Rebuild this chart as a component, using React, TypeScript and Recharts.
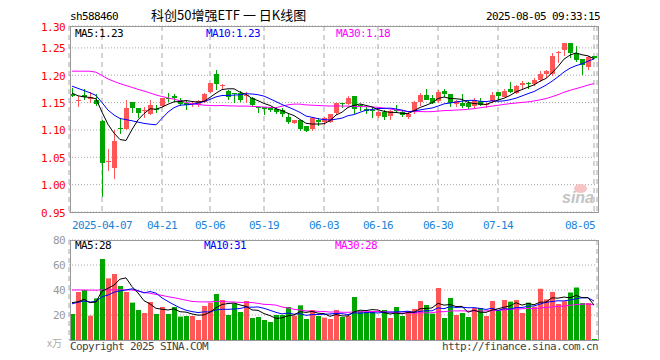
import React from 'react';
import { ComposedChart, Bar, Line, XAxis, YAxis, CartesianGrid, Cell } from 'recharts';

// trading days shown, oldest first
const dayList = [
  '03-28', '03-31',
  '04-01', '04-02', '04-03', '04-07', '04-08', '04-09', '04-10', '04-11', '04-14', '04-15', '04-16', '04-17',
  '04-18', '04-21', '04-22', '04-23', '04-24', '04-25', '04-28', '04-29', '04-30',
  '05-06', '05-07', '05-08', '05-09', '05-12', '05-13', '05-14', '05-15', '05-16', '05-19', '05-20', '05-21',
  '05-22', '05-23', '05-26', '05-27', '05-28', '05-29', '05-30',
  '06-03', '06-04', '06-05', '06-06', '06-09', '06-10', '06-11', '06-12', '06-13', '06-16', '06-17', '06-18',
  '06-19', '06-20', '06-23', '06-24', '06-25', '06-26', '06-27', '06-30',
  '07-01', '07-02', '07-03', '07-04', '07-07', '07-08', '07-09', '07-10', '07-11', '07-14', '07-15', '07-16',
  '07-17', '07-18', '07-21', '07-22', '07-23', '07-24', '07-25', '07-28', '07-29', '07-30', '07-31',
  '08-01', '08-04', '08-05',
];
const dates = dayList.map((d) => '2025-' + d);

const opens = [
  1.166, 1.154, 1.163, 1.157, 1.155, 1.117, 1.041, 1.030, 1.103, 1.101,
  1.151, 1.140, 1.135, 1.130, 1.139, 1.144, 1.159, 1.162, 1.155, 1.150,
  1.148, 1.145, 1.151, 1.170, 1.202, 1.180, 1.171, 1.167, 1.167, 1.162,
  1.159, 1.142, 1.142, 1.140, 1.139, 1.136, 1.124, 1.113, 1.118, 1.107,
  1.101, 1.118, 1.114, 1.114, 1.131, 1.149, 1.148, 1.162, 1.146, 1.138,
  1.137, 1.126, 1.133, 1.126, 1.137, 1.133, 1.124, 1.133, 1.151, 1.163,
  1.159, 1.152, 1.172, 1.165, 1.148, 1.149, 1.150, 1.144, 1.153, 1.148,
  1.152, 1.170, 1.161, 1.174, 1.167, 1.183, 1.186, 1.184, 1.192, 1.203,
  1.203, 1.241, 1.246, 1.259, 1.240, 1.229, 1.215, 1.236,
];
const highs = [
  1.176, 1.162, 1.174, 1.169, 1.165, 1.118, 1.065, 1.099, 1.122, 1.154,
  1.151, 1.141, 1.142, 1.155, 1.145, 1.159, 1.168, 1.166, 1.158, 1.155,
  1.153, 1.155, 1.167, 1.186, 1.210, 1.184, 1.173, 1.168, 1.171, 1.169,
  1.160, 1.142, 1.142, 1.140, 1.142, 1.140, 1.130, 1.119, 1.119, 1.107,
  1.124, 1.121, 1.124, 1.130, 1.149, 1.149, 1.162, 1.162, 1.148, 1.142,
  1.142, 1.134, 1.136, 1.136, 1.145, 1.137, 1.133, 1.153, 1.168, 1.174,
  1.163, 1.173, 1.174, 1.165, 1.155, 1.165, 1.155, 1.158, 1.158, 1.150,
  1.170, 1.170, 1.175, 1.187, 1.183, 1.190, 1.187, 1.195, 1.207, 1.209,
  1.240, 1.244, 1.259, 1.259, 1.254, 1.230, 1.235, 1.236,
];
const lows = [
  1.159, 1.141, 1.154, 1.149, 1.143, 0.977, 1.025, 1.009, 1.092, 1.099,
  1.131, 1.123, 1.121, 1.127, 1.130, 1.142, 1.151, 1.152, 1.143, 1.137,
  1.142, 1.142, 1.149, 1.167, 1.173, 1.173, 1.154, 1.149, 1.151, 1.149,
  1.142, 1.131, 1.128, 1.133, 1.129, 1.124, 1.112, 1.112, 1.098, 1.096,
  1.099, 1.106, 1.110, 1.113, 1.127, 1.140, 1.145, 1.130, 1.136, 1.129,
  1.122, 1.122, 1.118, 1.118, 1.130, 1.124, 1.120, 1.130, 1.145, 1.153,
  1.146, 1.149, 1.160, 1.142, 1.143, 1.140, 1.138, 1.140, 1.144, 1.141,
  1.149, 1.156, 1.160, 1.166, 1.166, 1.175, 1.175, 1.180, 1.186, 1.195,
  1.198, 1.222, 1.236, 1.232, 1.225, 1.201, 1.210, 1.230,
];
const closes = [
  1.162, 1.155, 1.160, 1.160, 1.148, 1.040, 1.043, 1.080, 1.101, 1.140,
  1.140, 1.131, 1.137, 1.145, 1.137, 1.158, 1.158, 1.159, 1.148, 1.146,
  1.149, 1.153, 1.165, 1.185, 1.184, 1.182, 1.160, 1.165, 1.154, 1.164,
  1.145, 1.140, 1.139, 1.136, 1.133, 1.129, 1.115, 1.118, 1.101, 1.098,
  1.122, 1.115, 1.121, 1.129, 1.149, 1.148, 1.159, 1.139, 1.143, 1.135,
  1.135, 1.133, 1.124, 1.134, 1.134, 1.127, 1.130, 1.151, 1.163, 1.154,
  1.150, 1.169, 1.165, 1.149, 1.152, 1.144, 1.142, 1.154, 1.145, 1.148,
  1.164, 1.162, 1.171, 1.170, 1.181, 1.185, 1.184, 1.192, 1.203, 1.207,
  1.235, 1.243, 1.259, 1.240, 1.227, 1.218, 1.233, 1.232,
];
// volume, 万
const volumes = [
  20.8, 38.4, 40, 19.5, 33.3, 64.8, 49.3, 52.8, 43.2, 38.4,
  29.9, 24, 21.6, 30.4, 20.8, 26.4, 20.8, 26.4, 18.7, 19.2,
  19.2, 16, 27.2, 29.9, 36.8, 32, 20, 29.1, 22.4, 31.2,
  17.6, 18.4, 16, 14.4, 20, 20, 26.4, 19.5, 27.7, 16.8,
  24, 19.2, 17.9, 16.8, 24, 18.4, 19.2, 34.4, 23.2, 22.4,
  22.4, 17.6, 24, 17.6, 26.4, 19.2, 23.2, 24.8, 31.2, 28,
  21.1, 41.6, 17.6, 33.6, 20, 21.6, 18.4, 25.6, 25.6, 19.2,
  31.2, 23.2, 32, 30.7, 32, 21.6, 29.9, 26.7, 41, 32.5,
  38.5, 28.8, 31, 38, 42, 29.5, 29.5, 0.8,
];
// sessions before the visible window, needed for the moving averages
const priorCloses = [
  1.155, 1.160, 1.162, 1.200, 1.225, 1.230, 1.215, 1.225, 1.240, 1.245,
  1.238, 1.232, 1.245, 1.250, 1.242, 1.235, 1.228, 1.232, 1.238, 1.225,
  1.195, 1.200, 1.200, 1.198, 1.170, 1.180, 1.170, 1.165, 1.160,
];
const priorVolumes = [
  36, 42, 22, 35, 58, 50, 50, 44, 40, 30,
  52, 55, 50, 48, 50, 52, 50, 48, 50, 48,
  26, 30, 28, 27, 29, 35, 30, 33, 30.7,
];

const axisDates = ['2025-04-07', '2025-04-21', '2025-05-06', '2025-05-19', '2025-06-03', '2025-06-16', '2025-06-30', '2025-07-14', '2025-08-05'];
const priceTicks = [0.95, 1.0, 1.05, 1.1, 1.15, 1.2, 1.25, 1.29];
const priceTickLabels = ['0.95', '1.00', '1.05', '1.10', '1.15', '1.20', '1.25', '1.30'];
const volumeTicks = [20, 40, 60, 80];

const RED = '#ff5757';
const GREEN = '#00a600';
const MONO = '"DejaVu Sans Mono", monospace';
const FRAME_LEFT = 70;
const FRAME_RIGHT = 598;

const movingAverage = (values: number[], prior: number[], n: number) => {
  const all = [...prior, ...values];
  return values.map((_, i) => {
    const end = prior.length + i;
    let sum = 0;
    for (let k = end - n + 1; k <= end; k++) sum += all[k];
    return sum / n;
  });
};

const ma5 = movingAverage(closes, priorCloses, 5);
const ma10 = movingAverage(closes, priorCloses, 10);
const ma30 = movingAverage(closes, priorCloses, 30);
const vma5 = movingAverage(volumes, priorVolumes, 5);
const vma10 = movingAverage(volumes, priorVolumes, 10);
const vma30 = movingAverage(volumes, priorVolumes, 30);

const rows = dates.map((date, i) => ({
  date,
  open: opens[i],
  high: highs[i],
  low: lows[i],
  close: closes[i],
  range: [lows[i], highs[i]],
  up: closes[i] >= opens[i],
  vol: volumes[i],
  ma5: ma5[i],
  ma10: ma10[i],
  ma30: ma30[i],
  vma5: vma5[i],
  vma10: vma10[i],
  vma30: vma30[i],
}));
const last = rows.length - 1;

const Candle = (props: any) => {
  const { x, y, width, height, payload } = props;
  const { open, close, high, low } = payload;
  const color = close >= open ? RED : GREEN;
  const top = Math.min(y, y + height);
  const h = Math.abs(height);
  const toY = (p: number) => top + ((high - p) / (high - low || 1)) * h;
  const left = Math.round(x);
  const w = Math.round(width);
  const mid = left + Math.floor(w / 2);
  const bodyTop = Math.round(toY(Math.max(open, close)));
  const bodyBottom = Math.round(toY(Math.min(open, close)));
  return (
    <g>
      <rect x={mid} y={Math.round(top)} width={1} height={Math.max(1, Math.round(h))} fill={color} />
      <rect x={left} y={bodyTop} width={w} height={Math.max(1, bodyBottom - bodyTop)} fill={color} />
    </g>
  );
};

const DateTick = (props: any) => {
  const { x, y, payload } = props;
  const label = payload.value === axisDates[0] ? payload.value : payload.value.slice(5);
  const half = (label.length * 6) / 2;
  let cx = x;
  if (cx + half > FRAME_RIGHT - 3) cx = FRAME_RIGHT - 3 - half;
  if (cx - half < FRAME_LEFT) cx = FRAME_LEFT + half;
  return (
    <text x={cx} y={y + 13} textAnchor="middle" dominantBaseline="central" fill="#1a84d8"
      fontFamily={MONO} fontSize={11} letterSpacing={-0.62}>
      {label}
    </text>
  );
};

const PriceTick = (props: any) => {
  const { x, y, payload } = props;
  const label = priceTickLabels[priceTicks.indexOf(payload.value)];
  return (
    <text x={x} y={y + 1} textAnchor="end" dominantBaseline="central" fill="#ff0000"
      fontFamily={MONO} fontSize={11} letterSpacing={-0.62}>
      {label}
    </text>
  );
};

const VolumeTick = (props: any) => {
  const { x, y, payload } = props;
  return (
    <text x={x} y={y} textAnchor="end" dominantBaseline="central" fill="#999"
      fontFamily={MONO} fontSize={11} letterSpacing={-0.62}>
      {payload.value}
    </text>
  );
};

const label = (text: string, left: number, centerY: number, color: string, extra: React.CSSProperties = {}) => (
  <span style={{
    position: 'absolute', left, top: centerY - 7, lineHeight: '14px', color, whiteSpace: 'nowrap',
    fontFamily: MONO, fontSize: 11, letterSpacing: '-0.62px', ...extra,
  }}>
    {text}
  </span>
);

export default function App() {
  return (
    <div style={{ position: 'absolute', left: 0, top: 0, width: 660, height: 360, background: '#fff', overflow: 'hidden' }}>
      <div style={{ position: 'absolute', left: 0, top: 0 }}>
        <ComposedChart width={660} height={235} data={rows} margin={{ top: 26, right: 63, bottom: 0, left: 0 }}>
          <CartesianGrid vertical={false} stroke="#a8a8a8" strokeDasharray="1 2" />
          <CartesianGrid horizontal={false} stroke="#a8a8a8" strokeDasharray="5 4" />
          <XAxis dataKey="date" ticks={axisDates} interval={0} tick={DateTick} tickLine={false} axisLine={false}
            tickSize={0} tickMargin={0} height={23} />
          <YAxis type="number" domain={[0.95, 1.29]} ticks={priceTicks} interval={0} width={69} tick={PriceTick}
            tickLine={false} axisLine={false} tickSize={0} tickMargin={4} allowDataOverflow />
          <Bar dataKey="range" barSize={5} shape={<Candle />} isAnimationActive={false} />
          <Line type="linear" dataKey="ma30" stroke="#ff00ff" strokeWidth={1} dot={false} isAnimationActive={false} />
          <Line type="linear" dataKey="ma10" stroke="#0000ff" strokeWidth={1} dot={false} isAnimationActive={false} />
          <Line type="linear" dataKey="ma5" stroke="#000000" strokeWidth={1} dot={false} isAnimationActive={false} />
        </ComposedChart>
      </div>
      <div style={{ position: 'absolute', left: 0, top: 226 }}>
        <ComposedChart width={660} height={120} data={rows} margin={{ top: 14, right: 63, bottom: 6, left: 0 }}>
          <CartesianGrid vertical={false} stroke="#a8a8a8" strokeDasharray="1 2" />
          <CartesianGrid horizontal={false} stroke="#a8a8a8" strokeDasharray="5 4" />
          <XAxis dataKey="date" ticks={axisDates} interval={0} tick={false} tickLine={false} axisLine={false} height={0} />
          <YAxis type="number" domain={[0, 80]} ticks={volumeTicks} interval={0} width={69} tick={VolumeTick}
            tickLine={false} axisLine={false} tickSize={0} tickMargin={4} allowDataOverflow />
          <Bar dataKey="vol" barSize={5} isAnimationActive={false}>
            {rows.map((r) => (
              <Cell key={r.date} fill={r.up ? RED : GREEN} />
            ))}
          </Bar>
          <Line type="linear" dataKey="vma30" stroke="#ff00ff" strokeWidth={1} dot={false} isAnimationActive={false} />
          <Line type="linear" dataKey="vma10" stroke="#0000ff" strokeWidth={1} dot={false} isAnimationActive={false} />
          <Line type="linear" dataKey="vma5" stroke="#000000" strokeWidth={1} dot={false} isAnimationActive={false} />
        </ComposedChart>
      </div>

      {/* plot frames */}
      <div style={{ position: 'absolute', left: FRAME_LEFT, top: 26, width: FRAME_RIGHT - FRAME_LEFT + 1, height: 187, border: '1px solid #999', boxSizing: 'border-box', pointerEvents: 'none' }} />
      <div style={{ position: 'absolute', left: FRAME_LEFT, top: 240, width: FRAME_RIGHT - FRAME_LEFT + 1, height: 101, border: '1px solid #999', boxSizing: 'border-box', pointerEvents: 'none' }} />

      {/* header */}
      {label('sh588460', 70, 17, '#000')}
      <span style={{ position: 'absolute', left: 151, top: 6, lineHeight: '18px', fontSize: 13, color: '#000', whiteSpace: 'pre', fontFamily: '"Noto Sans CJK SC", sans-serif' }}>
        科创50增强ETF 一 日K线图
      </span>
      {label('2025-08-05 09:33:15', 486, 17, '#000')}

      {label(`MA5:${ma5[last].toFixed(2)}`, 75, 34, '#000')}
      {label(`MA10:${ma10[last].toFixed(2)}`, 206, 34, '#0000ff')}
      {label(`MA30:${ma30[last].toFixed(2)}`, 336, 34, '#ff00ff')}

      {label(`MA5:${Math.round(vma5[last])}`, 75, 246, '#000')}
      {label(`MA10:${Math.round(vma10[last])}`, 204, 246, '#0000ff')}
      {label(`MA30:${Math.round(vma30[last])}`, 335, 246, '#ff00ff')}

      {/* watermark */}
      <div style={{ position: 'absolute', left: 574, top: 184, width: 13, height: 9, borderRadius: '50%', background: '#f6c4c4' }} />
      <span style={{ position: 'absolute', left: 562, top: 190, fontSize: 16, lineHeight: '16px', fontWeight: 700, fontStyle: 'italic', color: '#c4c4c4', fontFamily: 'Arial, "Liberation Sans", sans-serif' }}>
        sina
      </span>

      {/* footer */}
      <span style={{ position: 'absolute', left: 47, top: 337, fontSize: 10, lineHeight: '12px', color: '#aaa', fontFamily: '"Noto Sans CJK SC", sans-serif' }}>x万</span>
      {label('Copyright 2025 SINA.COM', 70, 347, '#444')}
      {label('http://finance.sina.com.cn', 442, 347, '#444')}
    </div>
  );
}
